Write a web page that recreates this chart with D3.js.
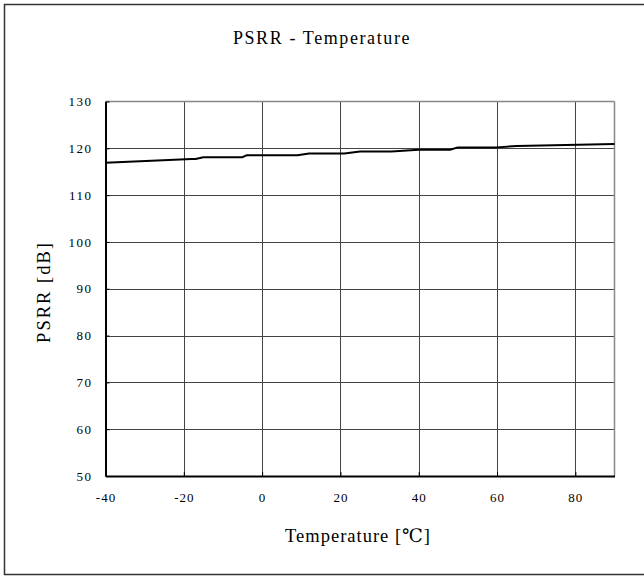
<!DOCTYPE html>
<html>
<head>
<meta charset="utf-8">
<script src="https://cdn.jsdelivr.net/npm/d3@7"></script>
<style>
  body { margin: 0; background: #fff; }
</style>
</head>
<body>
<svg id="chart" width="644" height="576"></svg>
<script>
// PSRR vs. temperature
const temperature = [-40, -18, -17, -15, -5, -4, 9, 12, 21, 25, 33, 40, 48, 50, 60, 65, 90];
const psrr        = [116.9, 117.7, 117.7, 118.1, 118.1, 118.5, 118.5, 118.9, 118.9, 119.3, 119.3, 119.7, 119.7, 120.2, 120.2, 120.5, 120.9];

const xTicks = [-40, -20, 0, 20, 40, 60, 80];
const yTicks = [50, 60, 70, 80, 90, 100, 110, 120, 130];

const SERIF = "'Liberation Serif', 'Times New Roman', 'DejaVu Serif', serif";

const svg = d3.select("#chart");
const m = { left: 105.5, right: 614.5, top: 101.5, bottom: 476 };

const x = d3.scaleLinear().domain([-40, 90]).range([m.left, m.right]);
const y = d3.scaleLinear().domain([50, 130]).range([m.bottom, m.top]);

// outer frame
svg.append("rect")
  .attr("x", 4.5).attr("y", 4.5).attr("width", 645).attr("height", 570)
  .attr("fill", "none").attr("stroke", "#333").attr("stroke-width", 1.5);

// title
svg.append("text")
  .attr("x", 322).attr("y", 44).attr("text-anchor", "middle")
  .style("font-family", SERIF).style("font-size", "18px").style("letter-spacing", "1.6px")
  .text("PSRR - Temperature");

// grid
const grid = svg.append("g");
grid.selectAll("line.v").data(xTicks.filter(d => d > -40)).join("line")
  .attr("x1", d => Math.round(x(d)) + 0.5).attr("x2", d => Math.round(x(d)) + 0.5)
  .attr("y1", m.top).attr("y2", m.bottom)
  .attr("stroke", "#444").attr("stroke-width", 1);
grid.selectAll("line.h").data(yTicks.filter(d => d > 50 && d < 130)).join("line")
  .attr("x1", m.left).attr("x2", m.right)
  .attr("y1", d => Math.round(y(d)) + 0.5).attr("y2", d => Math.round(y(d)) + 0.5)
  .attr("stroke", "#444").attr("stroke-width", 1);

// plot border: top/right gray, left/bottom black axes
svg.append("line").attr("x1", m.left).attr("x2", m.right).attr("y1", m.top).attr("y2", m.top)
  .attr("stroke", "#888").attr("stroke-width", 1.5);
svg.append("line").attr("x1", m.right).attr("x2", m.right).attr("y1", m.top).attr("y2", m.bottom)
  .attr("stroke", "#888").attr("stroke-width", 1.5);

// axes via d3
const xAxis = d3.axisBottom(x).tickValues(xTicks).tickSize(0).tickPadding(17)
  .tickFormat(d => String(d));
const gx = svg.append("g").attr("transform", `translate(0,${m.bottom})`).call(xAxis);
gx.attr("font-family", null).attr("font-size", null);
gx.select(".domain").attr("stroke", "#000").attr("stroke-width", 2);
gx.selectAll("text").style("font-family", SERIF).style("font-size", "13px")
  .style("letter-spacing", "1px");

const yAxis = d3.axisLeft(y).tickValues(yTicks).tickSize(0).tickPadding(13)
  .tickFormat(d => String(d));
const gy = svg.append("g").attr("transform", `translate(${m.left},0)`).call(yAxis);
gy.attr("font-family", null).attr("font-size", null);
gy.select(".domain").attr("stroke", "#000").attr("stroke-width", 2);
gy.selectAll("text").style("font-family", SERIF).style("font-size", "13px")
  .style("letter-spacing", "1.5px");

// small tick marks on axes
gx.selectAll(".tick").append("line").attr("y1", 0).attr("y2", -4)
  .attr("stroke", "#000").attr("stroke-width", 1);
gy.selectAll(".tick").append("line").attr("x1", 0).attr("x2", 4)
  .attr("stroke", "#000").attr("stroke-width", 1);

// axis titles
svg.append("text")
  .attr("x", 358).attr("y", 542).attr("text-anchor", "middle")
  .style("font-family", SERIF).style("font-size", "18.5px").style("letter-spacing", "1px")
  .text("Temperature [\u2103]");
svg.append("text")
  .attr("transform", "translate(50,292) rotate(-90)").attr("text-anchor", "middle")
  .style("font-family", SERIF).style("font-size", "18.5px").style("letter-spacing", "2px")
  .text("PSRR [dB]");

// data line
const line = d3.line().x((d, i) => x(temperature[i])).y(d => y(d));
svg.append("path").datum(psrr)
  .attr("d", line).attr("fill", "none")
  .attr("stroke", "#000").attr("stroke-width", 2).attr("stroke-linejoin", "round");
</script>
</body>
</html>
